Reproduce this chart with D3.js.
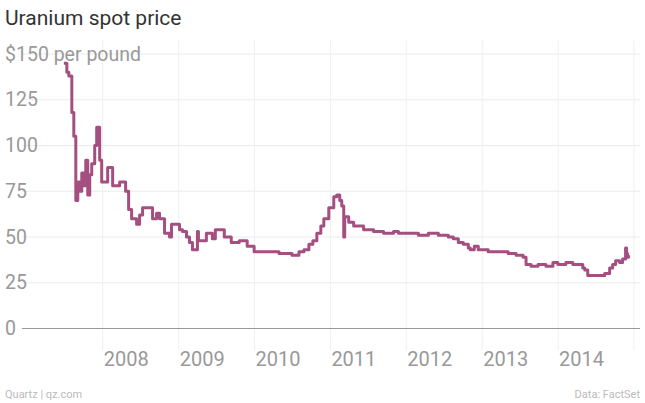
<!DOCTYPE html>
<html><head><meta charset="utf-8">
<script src="https://cdn.jsdelivr.net/npm/d3@7"></script>
<style>body{margin:0;background:#fff}text{font-family:Roboto,"Open Sans",sans-serif}</style>
</head><body><svg id="c" width="645" height="403"></svg>
<script>
const xPix = [64,67,69,72,74,76,78,80,82,84,86,88,90,92,95,97,100,102,108,113,120,126,129,132,137,140,143,153,157,160,165,170,172,180,183,187,190,193,198,199,207,213,216,225,232,240,248,255,265,280,293,300,305,310,314,318,322,325,330,335,338,341,343,345,346,350,355,365,375,385,395,400,408,420,430,440,450,455,460,465,470,472,476,480,485,490,500,510,518,522,525,528,533,540,548,555,560,568,575,580,585,587,590,600,605,607,612,615,618,622,625,627,628,629,630,631];
const prices = [145,140,138,118,105,70,80,75,85,78,92,73,84,90,100,110,92,80,88,78,80,75,65,60,57,62,66,60,63,60,52,50,57,54,53,50,47,43,53,48,52,49,54,50,47,48,45,42,42,41,40,42,43,46,48,52,56,60,66,72,73,70,67,50,61,58,56,54,53,52,53,52,52,51,52,51,50,49,47,46,44,43,45,43,43,42,42,41,40,40,39,35,34,35,34,36,35,36,35,35,33,32,29,29,29,30,33,35,37,36,38,38,44,41,39,40];
const yTicks = [0,25,50,75,100,125,150];
const yearTicks = [2008,2009,2010,2011,2012,2013,2014];

const toYear = p => 2008 + (p - 103) / 76.2;
const yToDate = y => { const yr = Math.floor(y); const s = new Date(yr,0,1), e = new Date(yr+1,0,1); return new Date(+s + (y-yr)*(e-s)); };
const data = xPix.map((p,i)=>({d: yToDate(toYear(p)), v: prices[i]}));

const svg = d3.select("#c");
const x = d3.scaleTime().domain([yToDate(2007.49), yToDate(2015.08)]).range([64, 640]);
const y = d3.scaleLinear().domain([0,150]).range([328.5, 54]);

svg.append("text").attr("x",5).attr("y",25).attr("font-size",21).attr("fill","#333").text("Uranium spot price");

svg.selectAll(".hg").data(yTicks.filter(d=>d>0)).join("line")
  .attr("x1",22).attr("x2",640).attr("y1",d=>y(d)).attr("y2",d=>y(d))
  .attr("stroke","#ebebeb").attr("stroke-width",1);
svg.selectAll(".vg").data(yearTicks.concat([2015])).join("line")
  .attr("x1",d=>x(yToDate(d))).attr("x2",d=>x(yToDate(d))).attr("y1",40).attr("y2",350)
  .attr("stroke","#efefef").attr("stroke-width",1);
svg.append("line").attr("x1",22).attr("x2",640).attr("y1",y(0)).attr("y2",y(0)).attr("stroke","#999").attr("stroke-width",1);

svg.selectAll(".yl").data(yTicks).join("text")
  .attr("x",5).attr("y",d=>y(d)+6.5).attr("font-size",19.5).attr("fill","#999")
  .text(d=>d===150?"$150 per pound":d);
svg.selectAll(".xl").data(yearTicks).join("text")
  .attr("x",d=>x(yToDate(d))+1).attr("y",366).attr("font-size",20).attr("fill","#999")
  .text(d=>d);

svg.append("path").datum(data)
  .attr("d", d3.line().x(d=>x(d.d)).y(d=>y(d.v)).curve(d3.curveStepAfter))
  .attr("fill","none").attr("stroke","#a44f80").attr("stroke-width",3).attr("stroke-linejoin","round");

svg.append("text").attr("x",5).attr("y",398).attr("font-size",11).attr("fill","#bbb").text("Quartz | qz.com");
svg.append("text").attr("x",640).attr("y",398).attr("text-anchor","end").attr("font-size",11).attr("fill","#bbb").text("Data: FactSet");
</script></body></html>
